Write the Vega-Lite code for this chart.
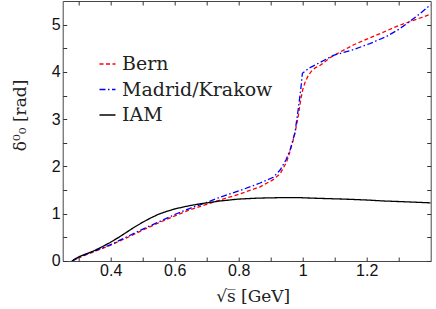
{
  "$schema": "https://vega.github.io/schema/vega-lite/v6.json",
  "width": 368,
  "height": 260,
  "autosize": {"type": "none"},
  "padding": {"left": 62.7, "top": 1, "right": 5, "bottom": 48},
  "background": "white",
  "config": {
    "view": {"stroke": "#444", "strokeWidth": 1},
    "axis": {
      "grid": false,
      "domain": false,
      "tickColor": "#333",
      "tickWidth": 1,
      "tickSize": -4,
      "labelFont": "Liberation Sans",
      "labelFontSize": 16,
      "labelColor": "#111",
      "titleFont": "DejaVu Serif",
      "titleFontSize": 17,
      "titleFontWeight": "normal",
      "titleColor": "#222"
    },
    "legend": {
      "labelFont": "DejaVu Serif",
      "labelFontSize": 19,
      "labelColor": "#222"
    }
  },
  "datasets": {
    "curves": [
      {"series": "Bern", "x": 0.279, "y": 0},
      {"series": "Bern", "x": 0.30, "y": 0.07},
      {"series": "Bern", "x": 0.33, "y": 0.15},
      {"series": "Bern", "x": 0.36, "y": 0.23},
      {"series": "Bern", "x": 0.398, "y": 0.33},
      {"series": "Bern", "x": 0.45, "y": 0.49},
      {"series": "Bern", "x": 0.502, "y": 0.66},
      {"series": "Bern", "x": 0.554, "y": 0.82},
      {"series": "Bern", "x": 0.606, "y": 0.97},
      {"series": "Bern", "x": 0.65, "y": 1.09},
      {"series": "Bern", "x": 0.70, "y": 1.2},
      {"series": "Bern", "x": 0.742, "y": 1.29},
      {"series": "Bern", "x": 0.804, "y": 1.42},
      {"series": "Bern", "x": 0.867, "y": 1.57},
      {"series": "Bern", "x": 0.908, "y": 1.72},
      {"series": "Bern", "x": 0.93, "y": 1.85},
      {"series": "Bern", "x": 0.95, "y": 2.1},
      {"series": "Bern", "x": 0.961, "y": 2.33},
      {"series": "Bern", "x": 0.97, "y": 2.55},
      {"series": "Bern", "x": 0.976, "y": 2.71},
      {"series": "Bern", "x": 0.986, "y": 3.06},
      {"series": "Bern", "x": 0.994, "y": 3.42},
      {"series": "Bern", "x": 1.0, "y": 3.62},
      {"series": "Bern", "x": 1.007, "y": 3.77},
      {"series": "Bern", "x": 1.017, "y": 3.92},
      {"series": "Bern", "x": 1.028, "y": 4.02},
      {"series": "Bern", "x": 1.04, "y": 4.09},
      {"series": "Bern", "x": 1.055, "y": 4.14},
      {"series": "Bern", "x": 1.085, "y": 4.3},
      {"series": "Bern", "x": 1.117, "y": 4.42},
      {"series": "Bern", "x": 1.158, "y": 4.57},
      {"series": "Bern", "x": 1.21, "y": 4.72},
      {"series": "Bern", "x": 1.262, "y": 4.87},
      {"series": "Bern", "x": 1.30, "y": 4.98},
      {"series": "Bern", "x": 1.346, "y": 5.09},
      {"series": "Bern", "x": 1.40, "y": 5.22},
      {"series": "Madrid/Krakow", "x": 0.279, "y": 0},
      {"series": "Madrid/Krakow", "x": 0.30, "y": 0.07},
      {"series": "Madrid/Krakow", "x": 0.33, "y": 0.16},
      {"series": "Madrid/Krakow", "x": 0.36, "y": 0.24},
      {"series": "Madrid/Krakow", "x": 0.398, "y": 0.34},
      {"series": "Madrid/Krakow", "x": 0.45, "y": 0.51},
      {"series": "Madrid/Krakow", "x": 0.502, "y": 0.68},
      {"series": "Madrid/Krakow", "x": 0.554, "y": 0.84},
      {"series": "Madrid/Krakow", "x": 0.606, "y": 1.0},
      {"series": "Madrid/Krakow", "x": 0.65, "y": 1.12},
      {"series": "Madrid/Krakow", "x": 0.70, "y": 1.24},
      {"series": "Madrid/Krakow", "x": 0.742, "y": 1.35},
      {"series": "Madrid/Krakow", "x": 0.804, "y": 1.49},
      {"series": "Madrid/Krakow", "x": 0.867, "y": 1.65},
      {"series": "Madrid/Krakow", "x": 0.908, "y": 1.77},
      {"series": "Madrid/Krakow", "x": 0.93, "y": 1.93},
      {"series": "Madrid/Krakow", "x": 0.948, "y": 2.14},
      {"series": "Madrid/Krakow", "x": 0.961, "y": 2.36},
      {"series": "Madrid/Krakow", "x": 0.976, "y": 2.72},
      {"series": "Madrid/Krakow", "x": 0.986, "y": 3.21},
      {"series": "Madrid/Krakow", "x": 0.994, "y": 3.63},
      {"series": "Madrid/Krakow", "x": 0.999, "y": 3.97},
      {"series": "Madrid/Krakow", "x": 1.02, "y": 4.08},
      {"series": "Madrid/Krakow", "x": 1.054, "y": 4.2},
      {"series": "Madrid/Krakow", "x": 1.096, "y": 4.35},
      {"series": "Madrid/Krakow", "x": 1.158, "y": 4.47},
      {"series": "Madrid/Krakow", "x": 1.21, "y": 4.6},
      {"series": "Madrid/Krakow", "x": 1.262, "y": 4.75},
      {"series": "Madrid/Krakow", "x": 1.30, "y": 4.9},
      {"series": "Madrid/Krakow", "x": 1.325, "y": 5.02},
      {"series": "Madrid/Krakow", "x": 1.366, "y": 5.23},
      {"series": "Madrid/Krakow", "x": 1.40, "y": 5.42},
      {"series": "IAM", "x": 0.279, "y": 0},
      {"series": "IAM", "x": 0.29, "y": 0.05},
      {"series": "IAM", "x": 0.304, "y": 0.1},
      {"series": "IAM", "x": 0.325, "y": 0.155},
      {"series": "IAM", "x": 0.346, "y": 0.21},
      {"series": "IAM", "x": 0.37, "y": 0.29},
      {"series": "IAM", "x": 0.398, "y": 0.39},
      {"series": "IAM", "x": 0.425, "y": 0.5},
      {"series": "IAM", "x": 0.45, "y": 0.61},
      {"series": "IAM", "x": 0.475, "y": 0.72},
      {"series": "IAM", "x": 0.5, "y": 0.82},
      {"series": "IAM", "x": 0.525, "y": 0.91},
      {"series": "IAM", "x": 0.55, "y": 0.99},
      {"series": "IAM", "x": 0.575, "y": 1.05},
      {"series": "IAM", "x": 0.6, "y": 1.1},
      {"series": "IAM", "x": 0.625, "y": 1.14},
      {"series": "IAM", "x": 0.65, "y": 1.175},
      {"series": "IAM", "x": 0.68, "y": 1.21},
      {"series": "IAM", "x": 0.742, "y": 1.27},
      {"series": "IAM", "x": 0.80, "y": 1.31},
      {"series": "IAM", "x": 0.86, "y": 1.33},
      {"series": "IAM", "x": 0.93, "y": 1.34},
      {"series": "IAM", "x": 0.99, "y": 1.34},
      {"series": "IAM", "x": 1.05, "y": 1.325},
      {"series": "IAM", "x": 1.127, "y": 1.31},
      {"series": "IAM", "x": 1.20, "y": 1.29},
      {"series": "IAM", "x": 1.252, "y": 1.27},
      {"series": "IAM", "x": 1.33, "y": 1.25},
      {"series": "IAM", "x": 1.40, "y": 1.23}
    ]
  },
  "data": {"name": "curves"},
  "resolve": {"axis": {"x": "independent", "y": "independent"}},
  "layer": [
    {
      "mark": {"type": "line", "strokeWidth": 1.3, "clip": true},
      "encoding": {
        "x": {
          "field": "x", "type": "quantitative",
          "scale": {"domain": [0.25, 1.4], "nice": false, "zero": false},
          "axis": {
            "orient": "bottom",
            "values": [0.3, 0.4, 0.5, 0.6, 0.7, 0.8, 0.9, 1.0, 1.1, 1.2, 1.3],
            "labelExpr": "round(datum.value*10) % 2 === 0 ? format(datum.value, '~g') : ''",
            "labelPadding": 6,
            "labelFlush": false,
            "title": "√s̅  [GeV]",
            "titleX": 190,
            "titleY": 41,
            "titleBaseline": "alphabetic",
            "titleAnchor": null
          }
        },
        "y": {
          "field": "y", "type": "quantitative",
          "scale": {"domain": [0, 5.5], "nice": false},
          "axis": {
            "orient": "left",
            "values": [0, 0.5, 1, 1.5, 2, 2.5, 3, 3.5, 4, 4.5, 5],
            "labelExpr": "datum.value % 1 === 0 ? format(datum.value, '~g') : ''",
            "labelPadding": 6.5,
            "labelFlush": false,
            "title": "δ⁰₀ [rad]",
            "titleX": -37,
            "titleY": 114,
            "titleAngle": -90,
            "titleBaseline": "alphabetic",
            "titleAlign": "center"
          }
        },
        "color": {
          "field": "series", "type": "nominal",
          "scale": {"domain": ["Bern", "Madrid/Krakow", "IAM"], "range": ["#ff0000", "#0000ff", "#000000"]},
          "legend": {
            "title": null,
            "orient": "none",
            "legendX": 35.3,
            "legendY": 53.5,
            "symbolType": "stroke",
            "symbolSize": 256,
            "symbolStrokeWidth": 1.4,
            "labelOffset": 5,
            "rowPadding": 5.5,
            "padding": 0
          }
        },
        "strokeDash": {
          "field": "series", "type": "nominal",
          "scale": {"domain": ["Bern", "Madrid/Krakow", "IAM"], "range": [[4, 2.5], [6, 2.5, 1.5, 2.5], [1, 0]]},
          "legend": {
            "title": null,
            "orient": "none",
            "legendX": 35.3,
            "legendY": 53.5,
            "symbolType": "stroke",
            "symbolSize": 256,
            "symbolStrokeWidth": 1.4,
            "labelOffset": 5,
            "rowPadding": 5.5,
            "padding": 0
          }
        }
      }
    },
    {
      "mark": {"type": "line", "strokeOpacity": 0, "clip": true},
      "encoding": {
        "x": {
          "field": "x", "type": "quantitative",
          "scale": {"domain": [0.25, 1.4], "nice": false, "zero": false},
          "axis": {
            "orient": "top",
            "values": [0.3, 0.4, 0.5, 0.6, 0.7, 0.8, 0.9, 1.0, 1.1, 1.2, 1.3],
            "labels": false,
            "title": null
          }
        },
        "y": {
          "field": "y", "type": "quantitative",
          "scale": {"domain": [0, 5.5], "nice": false},
          "axis": {
            "orient": "right",
            "values": [0, 0.5, 1, 1.5, 2, 2.5, 3, 3.5, 4, 4.5, 5],
            "labels": false,
            "title": null
          }
        },
        "detail": {"field": "series", "type": "nominal"}
      }
    }
  ]
}
